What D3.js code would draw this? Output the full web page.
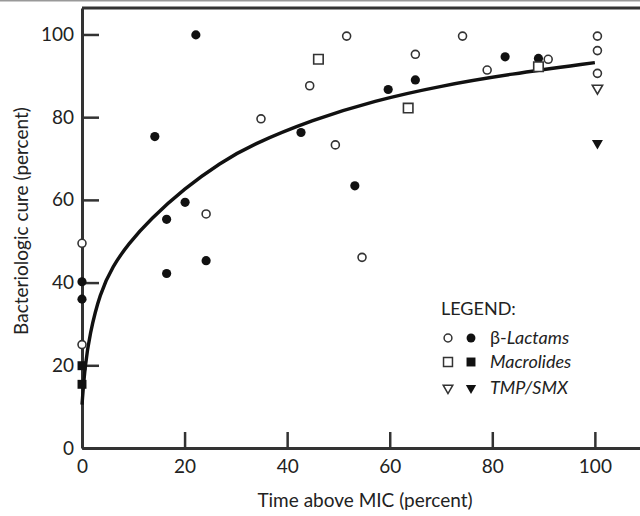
<!DOCTYPE html>
<html>
<head>
<meta charset="utf-8">
<script src="https://cdn.jsdelivr.net/npm/d3@7"></script>
<style>
  body { margin: 0; background: #fff; }
  svg { display: block; font-family: Lato, 'DejaVu Sans', sans-serif; }
  .axis path, .axis line { stroke: #333; }
  .axis path { stroke-width: 3; }
  .axis line { stroke-width: 2.5; }
  .axis text { font-size: 19px; fill: #222; font-family: Lato, 'DejaVu Sans', sans-serif; }
  .title { font-size: 19px; fill: #222; }
  .legend { font-size: 18px; fill: #222; }
</style>
</head>
<body>
<svg class="chart" width="640" height="516"></svg>
<script>
// values: time above MIC (%) vs bacteriologic cure (%)
const betaLactamOpen = [
  { time: 0, cure: 49.5 }, { time: 0, cure: 25 }, { time: 24.2, cure: 56.6 },
  { time: 34.9, cure: 79.6 }, { time: 44.4, cure: 87.6 }, { time: 49.4, cure: 73.3 },
  { time: 51.6, cure: 99.6 }, { time: 54.6, cure: 46.1 }, { time: 65, cure: 95.2 },
  { time: 74.2, cure: 99.6 }, { time: 79, cure: 91.4 }, { time: 90.9, cure: 94 },
  { time: 100.5, cure: 99.6 }, { time: 100.5, cure: 96.1 }, { time: 100.5, cure: 90.6 },
];
const betaLactamFilled = [
  { time: 0, cure: 40.2 }, { time: 0, cure: 36 }, { time: 14.2, cure: 75.3 },
  { time: 16.5, cure: 55.3 }, { time: 16.5, cure: 42.2 }, { time: 20.1, cure: 59.4 },
  { time: 22.2, cure: 99.9 }, { time: 24.2, cure: 45.3 }, { time: 42.7, cure: 76.3 },
  { time: 53.2, cure: 63.4 }, { time: 59.7, cure: 86.7 }, { time: 65, cure: 89 },
  { time: 82.5, cure: 94.6 }, { time: 89, cure: 94.2 },
];
const macrolideOpen = [{ time: 46.1, cure: 94 }, { time: 63.6, cure: 82.2 }, { time: 89, cure: 92.2 }];
const macrolideFilled = [{ time: 0, cure: 19.9 }, { time: 0, cure: 15.4 }];
const tmpSmxOpen = [{ time: 100.5, cure: 87 }];
const tmpSmxFilled = [{ time: 100.5, cure: 73.7 }];

// fitted curve
const fitTime = [0, 0.6, 1.5, 3.5, 6, 9, 13.3, 20, 27, 33, 45, 57, 70, 83.4, 100];
const fitCure = [10.5, 20, 27.5, 37.5, 44, 49.3, 55.3, 62.8, 69, 73.3, 79.4, 84, 87.6, 90.4, 93.2];

const timeTicks = [0, 20, 40, 60, 80, 100];
const cureTicks = [0, 20, 40, 60, 80, 100];
const legendLabels = ['Lactams', 'Macrolides', 'TMP/SMX'];

const addMarks = (chart, data, xScale, yScale, type, filled, size, rotate) => {
  chart.append('g')
    .selectAll('path')
    .data(data)
    .enter()
    .append('path')
    .attr('d', d3.symbol().type(type).size(size))
    .attr('transform', ({ time, cure }) => `translate(${xScale(time)}, ${yScale(cure)})${rotate ? ' rotate(180)' : ''}`)
    .attr('fill', filled ? '#111' : '#fff')
    .attr('stroke', filled ? 'none' : '#333')
    .attr('stroke-width', 1.6);
};

const setLegend = (chart) => {
  const left = 448;
  const rows = [338, 362, 388];
  const symbols = [
    [d3.symbolCircle, 48, 62, false],
    [d3.symbolSquare, 80, 80, false],
    [d3.symbolTriangle, 40, 46, true],
  ];

  chart.append('text')
    .attr('x', 441)
    .attr('y', 315)
    .classed('legend', true)
    .text('LEGEND:');

  rows.forEach((y, i) => {
    const [type, openSize, filledSize, rotate] = symbols[i];
    const flip = rotate ? ' rotate(180)' : '';
    chart.append('path')
      .attr('d', d3.symbol().type(type).size(openSize))
      .attr('transform', `translate(${left}, ${y})${flip}`)
      .attr('fill', '#fff')
      .attr('stroke', '#333')
      .attr('stroke-width', 1.5);
    chart.append('path')
      .attr('d', d3.symbol().type(type).size(filledSize))
      .attr('transform', `translate(${left + 23}, ${y})${flip}`)
      .attr('fill', '#111');

    const label = chart.append('text')
      .attr('x', 490)
      .attr('y', y + 6)
      .classed('legend', true);
    if (i === 0) {
      label.append('tspan').text('β-');
    }
    label.append('tspan')
      .attr('font-style', 'italic')
      .text(legendLabels[i]);
  });
};

const startApp = () => {
  const chart = d3.select('.chart');
  const xScale = d3.scaleLinear().domain([0, 108.8]).range([82, 640]);
  const yScale = d3.scaleLinear().domain([0, 106.4]).range([448, 8]);

  // page border and top frame line
  chart.append('line')
    .attr('x1', 0).attr('x2', 640)
    .attr('y1', 0.75).attr('y2', 0.75)
    .attr('stroke', '#999')
    .attr('stroke-width', 1.5);
  chart.append('line')
    .attr('x1', xScale(0)).attr('x2', 640)
    .attr('y1', yScale(106.4)).attr('y2', yScale(106.4))
    .attr('stroke', '#333')
    .attr('stroke-width', 3);

  const xAxis = d3.axisBottom(xScale)
    .tickValues(timeTicks)
    .tickSizeInner(-16)
    .tickSizeOuter(0)
    .tickPadding(12);
  const yAxis = d3.axisLeft(yScale)
    .tickValues(cureTicks)
    .tickSizeInner(-17)
    .tickSizeOuter(0)
    .tickPadding(8);

  chart.append('g')
    .classed('axis', true)
    .attr('transform', 'translate(0, 448)')
    .call(xAxis);
  chart.append('g')
    .classed('axis', true)
    .attr('transform', `translate(${xScale(0)}, 0)`)
    .call(yAxis);
  chart.selectAll('.axis').attr('font-size', null).attr('font-family', null);

  chart.append('text')
    .attr('x', 365)
    .attr('y', 507)
    .attr('text-anchor', 'middle')
    .classed('title', true)
    .text('Time above MIC (percent)');
  chart.append('text')
    .attr('transform', 'rotate(-90)')
    .attr('x', -221)
    .attr('y', 28)
    .attr('text-anchor', 'middle')
    .classed('title', true)
    .text('Bacteriologic cure (percent)');

  const fit = fitTime.map((time, i) => ({ time, cure: fitCure[i] }));
  chart.append('path')
    .datum(fit)
    .attr('fill', 'none')
    .attr('stroke', '#111')
    .attr('stroke-width', 3.4)
    .attr('d', d3.line()
      .x(({ time }) => xScale(time))
      .y(({ cure }) => yScale(cure))
      .curve(d3.curveBasis));

  addMarks(chart, betaLactamFilled, xScale, yScale, d3.symbolCircle, true, 66, false);
  addMarks(chart, macrolideFilled, xScale, yScale, d3.symbolSquare, true, 80, false);
  addMarks(chart, tmpSmxFilled, xScale, yScale, d3.symbolTriangle, true, 52, true);
  addMarks(chart, betaLactamOpen, xScale, yScale, d3.symbolCircle, false, 50, false);
  addMarks(chart, macrolideOpen, xScale, yScale, d3.symbolSquare, false, 90, false);
  addMarks(chart, tmpSmxOpen, xScale, yScale, d3.symbolTriangle, false, 46, true);

  setLegend(chart);
};

window.onload = startApp;
</script>
</body>
</html>
